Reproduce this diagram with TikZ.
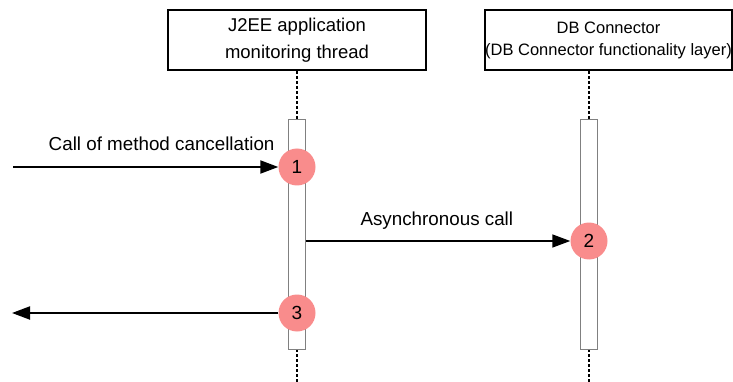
\documentclass[tikz,border=0pt]{standalone}
\usepackage{fontspec}
\setmainfont{Liberation Sans}
\usepackage{xcolor}
\usetikzlibrary{arrows.meta}
\definecolor{mark}{HTML}{F98C8C}

\begin{document}
\begin{tikzpicture}[x=1pt,y=-1pt,
  obj/.style={draw,line width=2pt,inner sep=0pt,align=center,minimum height=60pt},
  life/.style={line width=2pt,dash pattern=on 3pt off 2pt},
  act/.style={draw=gray,fill=white,line width=1pt},
  num/.style={circle,fill=mark,minimum size=37pt,inner sep=0pt,font=\fontsize{19}{20}\selectfont},
  msg/.style={-{Triangle[length=18pt,width=13pt]},line width=2pt},
  lbl/.style={font=\fontsize{18.8}{22}\selectfont}
]
\useasboundingbox (0,0) rectangle (733,382);

\node[obj,minimum width=258pt,font=\fontsize{18.5}{27}\selectfont] (jee) at (297,40)
  {J2EE application\\monitoring thread};
\node[obj,minimum width=247pt,font=\fontsize{16.5}{22}\selectfont] (db) at (608.5,40)
  {DB Connector\\(DB Connector functionality layer)};

% lifelines
\coordinate (jeeA) at (297,120);
\coordinate (jeeB) at (297,349);
\coordinate (dbA) at (589,120);
\coordinate (dbB) at (589,349);
\draw[life] (jee.south -| jeeA) -- (jeeA);
\draw[life] (jeeB) -- (297,382);
\draw[life] (db.south -| dbA) -- (dbA);
\draw[life] (dbB) -- (589,382);

% activations
\draw[act] (288.5,120) rectangle (305.5,349);
\draw[act] (580.5,120) rectangle (597.5,349);

\node[num] (n1) at (297,167) {1};
\node[num] (n2) at (589,241) {2};
\node[num] (n3) at (297,313) {3};

\coordinate (in) at (13,167);
\coordinate (out) at (12,313);
\coordinate (src) at (305.5,241);

\draw[msg] (in) -- (n1);
\node[lbl,anchor=base east] at (278,151) {Call of method cancellation};

\draw[msg,line width=1.5pt] (src) -- (n2);
\node[lbl,anchor=base west] at (357,225) {Asynchronous call};

\draw[msg] (n3) -- (out);
\end{tikzpicture}
\end{document}
